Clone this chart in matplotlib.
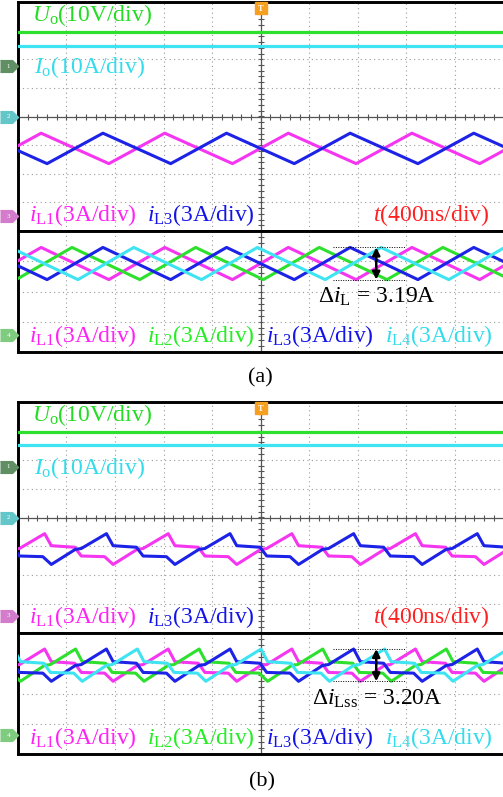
import numpy as np
import matplotlib.pyplot as plt

plt.rcParams['font.family'] = ['Liberation Serif', 'DejaVu Serif']
plt.rcParams['mathtext.fontset'] = 'custom'
plt.rcParams['mathtext.rm'] = 'Liberation Serif'
plt.rcParams['mathtext.it'] = 'Liberation Serif:italic'

# scope time base
t_div_ns = 400

# output voltage (V) and output current (A)
uo = [12.0, 12.0]
io = [24.8, 25.0]

# one switching period of the inductor current, starting at the valley (ns, A)
period_ns = 1018
tri_t = [0, 460, 1018]
tri_i = [5.50, 8.69, 5.50]
cpl_t = [0, 198, 247, 454, 509, 701, 756, 948, 1018]
cpl_i = [5.35, 6.92, 7.01, 8.55, 7.30, 7.14, 6.23, 6.16, 5.35]

# valley of iL1 (ns) in each capture, and lag of each phase (ns)
valley_ns = [-268, -233]
phases = ['L1', 'L2', 'L3', 'L4']
lag_ns = [0, 254.5, 509, 763.5]

# channel ground references (div)
ref_uo = 1.75
ref_io = 0.0
ref_il_top = [-3.48, -3.41]
ref_il_bot = [-1.44, -1.38]

c_mag = '#f535f0'
c_grn = '#2ee02e'
c_blu = '#1c22e6'
c_cyn = '#3ee4f2'
colors = {'L1': c_mag, 'L2': c_grn, 'L3': c_blu, 'L4': c_cyn}

W, H = 503, 797
fig = plt.figure(figsize=(W / 100, H / 100), dpi=100)


def px_axes(x0, y0, x1, y1):
    return fig.add_axes([x0 / W, 1 - y1 / H, (x1 - x0) / W, (y1 - y0) / H])


def tile(t, i, t0):
    ts, ys = [], []
    for k in range(-2, 6):
        start = t0 + k * period_ns
        ts += [start + x for x in t[:-1]]
        ys += i[:-1]
    return np.array(ts) / t_div_ns, np.array(ys)


def screen(ax, ny):
    ax.set_xlim(0, 10)
    ax.set_ylim(-ny, ny)
    ax.set_xticks([])
    ax.set_yticks([])
    for s in ['left', 'top', 'bottom']:
        ax.spines[s].set_linewidth(2.1)
    ax.spines['right'].set_visible(False)
    dots = dict(color='#9a9a9a', lw=0.8, ls=(0, (1, 3)), zorder=1)
    for x in range(1, 10):
        if x != 5:
            ax.axvline(x, **dots)
    ax.axvline(5, color='#555555', lw=0.9, zorder=1)
    ticks = np.arange(-ny, ny + 0.01, 0.2)
    ax.plot(np.full(len(ticks), 5.0), ticks, ls='none', marker='_', ms=5,
            mew=0.8, color='#555555', zorder=1)


def tab(ax, y, color, num):
    ax.plot(-0.175, y, marker=[(-1, -0.65), (0.35, -0.65), (1, 0), (0.35, 0.65), (-1, 0.65)],
            ms=13, color=color, clip_on=False, zorder=5)
    ax.text(-0.19, y, num, color='white', fontsize=5, ha='center', va='center',
            clip_on=False, zorder=6)


def label(ax, x, y, s, color, ha='left'):
    ax.text(x, y, s, color=color, fontsize=17, ha=ha, va='center', zorder=6)


panels = [(2, 231, 352, tri_t, tri_i), (402, 633, 754, cpl_t, cpl_i)]
for n, (top, sep, bot, wt, wi) in enumerate(panels):
    # main window: output voltage/current, iL1 and iL3
    ax = px_axes(17.8, top, 503.5, sep)
    screen(ax, 4)
    for y in [-3, -2, -1, 1, 2, 3]:
        ax.axhline(y, color='#9a9a9a', lw=0.8, ls=(0, (1, 3)), zorder=1)
    ax.axhline(0, color='#555555', lw=0.9, zorder=1)
    xt = np.arange(0, 10.01, 0.2)
    ax.plot(xt, np.zeros(len(xt)), ls='none', marker='|', ms=5, mew=0.8,
            color='#555555', zorder=1)

    ax.axhline(uo[n] / 10 + ref_uo, color=c_grn, lw=2.3, zorder=3)
    ax.axhline(io[n] / 10 + ref_io, color=c_cyn, lw=2.3, zorder=3)
    for p in ['L1', 'L3']:
        x, y = tile(wt, wi, valley_ns[n] + lag_ns[phases.index(p)])
        ax.plot(x, y / 3 + ref_il_top[n], color=colors[p], lw=2.2, zorder=3)

    ax.plot(5, 3.79, marker='s', ms=8, color='#f5a020', clip_on=False, zorder=6)
    ax.text(5, 3.77, 'T', color='white', fontsize=6, ha='center', va='center',
            fontweight='bold', zorder=7)

    tab(ax, ref_uo, '#5f8f62', '1')
    tab(ax, ref_io, '#63c6c8', '2')
    tab(ax, ref_il_top[n], '#d27ccb', '3')

    label(ax, 0.29, 3.55, r'$U_{\mathrm{o}}$(10V/div)', '#22dd22')
    label(ax, 0.33, 1.73, r'$I_{\mathrm{o}}$(10A/div)', '#33dcec')
    label(ax, 0.24, -3.44, r'$i_{\mathrm{L1}}$(3A/div)', '#ff22f5')
    label(ax, 2.65, -3.44, r'$i_{\mathrm{L3}}$(3A/div)', '#1414e8')
    label(ax, 9.72, -3.44, r'$t$(400ns/div)', '#ff2020', ha='right')

    # lower window: all four phase currents
    bx = px_axes(17.8, sep, 503.5, bot)
    screen(bx, 2)
    for y in [-1, 0, 1]:
        bx.axhline(y, color='#9a9a9a', lw=0.8, ls=(0, (1, 3)), zorder=1)
    for p, lag in zip(phases, lag_ns):
        x, y = tile(wt, wi, valley_ns[n] + lag)
        bx.plot(x, y / 3 + ref_il_bot[n], color=colors[p], lw=2.2, zorder=3)

    tab(bx, ref_il_bot[n], '#7fcb7f', '4')

    y_hi = max(wi) / 3 + ref_il_bot[n]
    y_lo = min(wi) / 3 + ref_il_bot[n]
    bx.hlines([y_hi, y_lo], 6.49, 8.0, colors='black', lw=0.7,
              linestyles=(0, (1, 1.5)), zorder=4)
    bx.annotate('', xy=(7.38, y_hi), xytext=(7.38, y_lo),
                arrowprops=dict(arrowstyle='<|-|>', color='black', lw=1.8,
                                mutation_scale=11, shrinkA=0, shrinkB=0), zorder=5)
    sub = 'L' if n == 0 else 'Lss'
    ripple = max(wi) - min(wi)
    bx.text(7.40, -0.19, 'Δ' + r'$i_{\mathrm{%s}}$' % sub + f' = {ripple:.2f}A',
            fontsize=17, ha='center', va='center', zorder=6)

    label(bx, 0.24, -1.47, r'$i_{\mathrm{L1}}$(3A/div)', '#ff22f5')
    label(bx, 2.65, -1.47, r'$i_{\mathrm{L2}}$(3A/div)', '#22ee22')
    label(bx, 5.12, -1.47, r'$i_{\mathrm{L3}}$(3A/div)', '#1414e8')
    label(bx, 7.56, -1.47, r'$i_{\mathrm{L4}}$(3A/div)', '#33dcec')

fig.text(260 / W, 1 - 378 / H, '(a)', ha='center', va='center', fontsize=16)
fig.text(262 / W, 1 - 782 / H, '(b)', ha='center', va='center', fontsize=16)

fig.savefig('out.png', dpi=100)
